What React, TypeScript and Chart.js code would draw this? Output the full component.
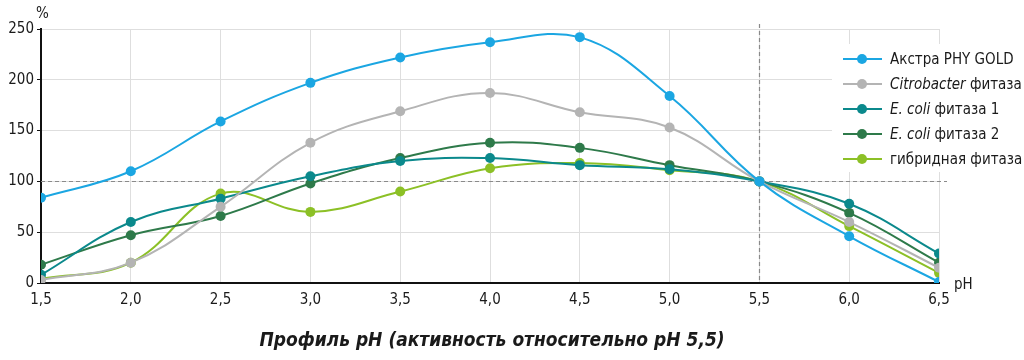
import React, { useEffect, useRef } from "react";
import { Chart, registerables } from "chart.js";
Chart.register(...registerables);

const phValues = [1.5, 2.0, 2.5, 3.0, 3.5, 4.0, 4.5, 5.0, 5.5, 6.0, 6.5];
const akstra = [84, 110, 159, 197, 222, 237, 242, 184, 100, 46, 1];
const citrobacter = [3, 20, 75, 138, 169, 187, 168, 153, 100, 60, 15];
const ecoli1 = [8, 60, 83, 105, 120, 123, 116, 112, 100, 78, 29];
const ecoli2 = [18, 47, 66, 98, 123, 138, 133, 116, 100, 69, 20];
const hybrid = [4, 20, 88, 70, 90, 113, 118, 111, 100, 56, 10];

const seriesNames = [
  [["Акстра PHY GOLD", false]],
  [["Citrobacter", true], [" фитаза", false]],
  [["E. coli", true], [" фитаза 1", false]],
  [["E. coli", true], [" фитаза 2", false]],
  [["гибридная фитаза", false]],
] as [string, boolean][][];
const seriesData = [akstra, citrobacter, ecoli1, ecoli2, hybrid];
const colors = ["#1ba6e2", "#b4b4b4", "#0b898c", "#2e7a4a", "#8cc026"];

const titleText = "Профиль pH (активность относительно pH 5,5)";
const FONT = '"Liberation Sans Narrow", "DejaVu Sans Condensed", "Liberation Sans", sans-serif';

const overlayPlugin = {
  id: "overlay",
  beforeDatasetsDraw(chart: any) {
    const ctx = chart.ctx;
    const x = chart.scales.x;
    const y = chart.scales.y;
    ctx.save();
    ctx.strokeStyle = "#8a8a8a";
    ctx.lineWidth = 1.2;
    ctx.setLineDash([4, 3]);
    const y100 = Math.round(y.getPixelForValue(100)) + 0.5;
    ctx.beginPath();
    ctx.moveTo(x.left, y100);
    ctx.lineTo(x.right + 8, y100);
    ctx.stroke();
    const x55 = Math.round(x.getPixelForValue(5.5)) + 0.5;
    ctx.beginPath();
    ctx.moveTo(x55, y.top - 5);
    ctx.lineTo(x55, y.bottom);
    ctx.stroke();
    ctx.restore();
  },
  afterDraw(chart: any) {
    const ctx = chart.ctx;
    const x = chart.scales.x;
    const y = chart.scales.y;
    ctx.save();
    // legend
    ctx.fillStyle = "#ffffff";
    ctx.fillRect(832, 44, 192, 128);
    const rowY = [59, 84, 109, 134, 159];
    seriesNames.forEach((parts, i) => {
      const ry = rowY[i];
      ctx.strokeStyle = colors[i];
      ctx.lineWidth = 2;
      ctx.beginPath();
      ctx.moveTo(843, ry);
      ctx.lineTo(882, ry);
      ctx.stroke();
      ctx.fillStyle = colors[i];
      ctx.beginPath();
      ctx.arc(862, ry, 5, 0, Math.PI * 2);
      ctx.fill();
      let tx = 890;
      ctx.fillStyle = "#1a1a1a";
      ctx.textBaseline = "middle";
      ctx.textAlign = "left";
      parts.forEach(([t, it]) => {
        ctx.font = (it ? "italic " : "") + "15px " + FONT;
        ctx.fillText(t, tx, ry + 1);
        tx += ctx.measureText(t).width;
      });
    });
    // axis labels
    ctx.fillStyle = "#1a1a1a";
    ctx.font = "15px " + FONT;
    ctx.textAlign = "left";
    ctx.textBaseline = "middle";
    ctx.fillText("%", 36, 14);
    ctx.fillText("pH", x.right + 15, y.bottom + 2);
    // title
    ctx.font = "italic bold 19px " + FONT;
    ctx.textAlign = "center";
    ctx.fillText(titleText, 492, 341);
    ctx.restore();
  },
};

export default function App() {
  const ref = useRef<HTMLCanvasElement>(null);
  useEffect(() => {
    document.body.style.margin = "0";
    const chart = new Chart(ref.current!, {
      type: "line",
      data: {
        datasets: seriesData.map((d, i) => ({
          label: seriesNames[i].map((p) => p[0]).join(""),
          data: d.map((v, j) => ({ x: phValues[j], y: v })),
          borderColor: colors[i],
          backgroundColor: colors[i],
          borderWidth: 2,
          pointRadius: 5,
          pointHoverRadius: 5,
          pointBorderWidth: 0,
          tension: 0.4,
          fill: false,
        })),
      },
      options: {
        animation: false,
        responsive: false,
        layout: { padding: { left: 0, right: 85, top: 29, bottom: 52 } },
        plugins: { legend: { display: false }, tooltip: { enabled: false } },
        scales: {
          x: {
            type: "linear",
            min: 1.5,
            max: 6.5,
            afterFit: (s: any) => { s.height = 25; },
            ticks: {
              stepSize: 0.5,
              color: "#1a1a1a",
              font: { family: FONT, size: 15 },
              padding: 8,
              callback: (v: any) => Number(v).toFixed(1).replace(".", ","),
            },
            grid: { color: "#dedede", lineWidth: 1, drawTicks: false },
            border: { color: "#111111", width: 2 },
          },
          y: {
            min: 0,
            max: 250,
            afterFit: (s: any) => { s.width = 41; },
            ticks: {
              stepSize: 50,
              color: "#1a1a1a",
              font: { family: FONT, size: 15 },
              padding: 3,
            },
            grid: { color: "#dedede", lineWidth: 1, drawTicks: true, tickLength: 4, tickColor: "#111111" },
            border: { color: "#111111", width: 2 },
          },
        },
      },
      plugins: [overlayPlugin],
    } as any);
    return () => chart.destroy();
  }, []);
  return (
    <div style={{ width: 1024, height: 360 }}>
      <canvas ref={ref} width={1024} height={360} style={{ display: "block" }} />
    </div>
  );
}
